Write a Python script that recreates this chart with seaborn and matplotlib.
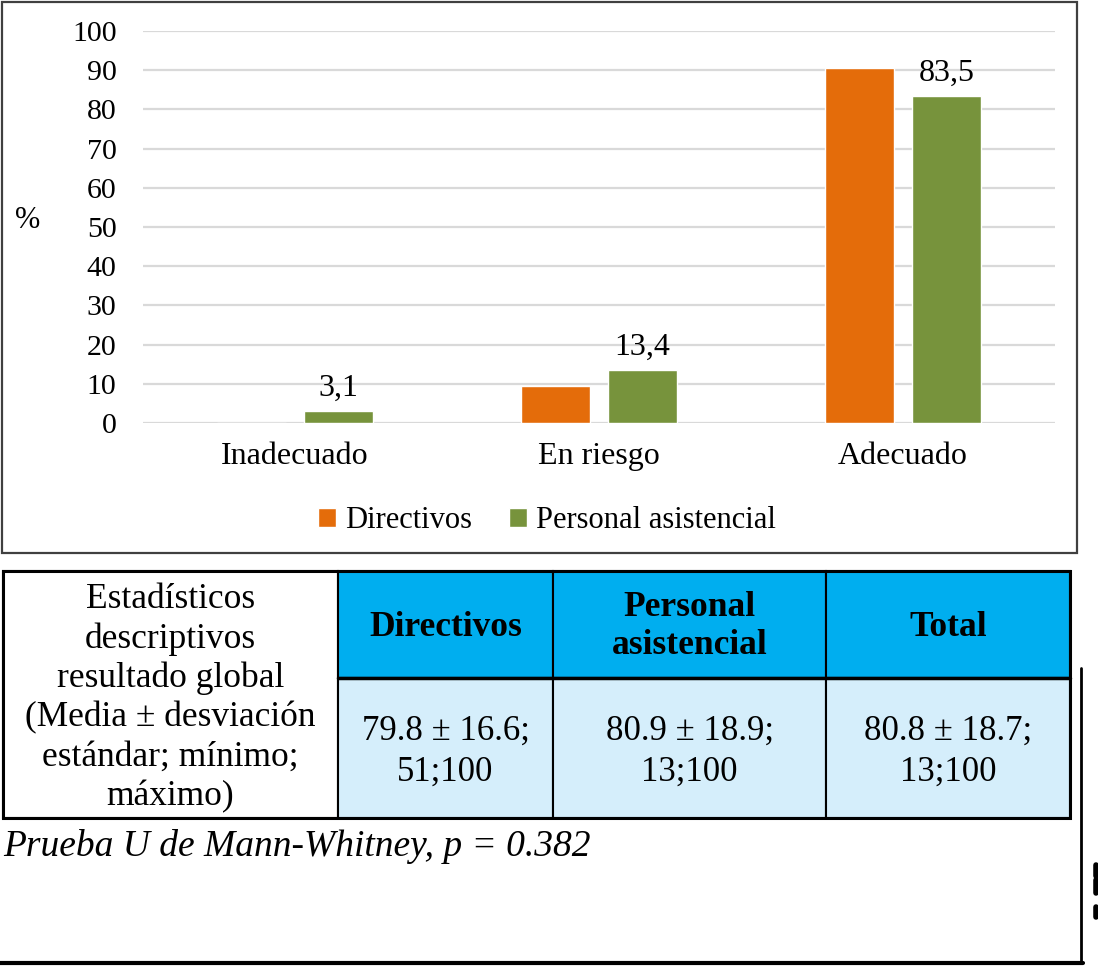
import matplotlib
matplotlib.use("Agg")
import matplotlib.pyplot as plt
import pandas as pd
import seaborn as sns
from matplotlib.patches import Rectangle

# datos del gráfico
CATEGORIES = ["Inadecuado", "En riesgo", "Adecuado"]
GROUPS = ["Directivos", "Personal asistencial"]
DIRECTIVOS = [0.0, 9.5, 90.5]
PERSONAL = [3.1, 13.4, 83.5]
PERSONAL_LABELS = ["3,1", "13,4", "83,5"]
Y_TICKS = list(range(0, 101, 10))

# datos de la tabla
TABLE_ROW_LABEL = ("Estadísticos\ndescriptivos\nresultado global\n"
                   "(Media ± desviación\nestándar; mínimo;\nmáximo)")
TABLE_HEADERS = ["Directivos", "Personal\nasistencial", "Total"]
TABLE_VALUES = ["79.8 ± 16.6;\n51;100", "80.9 ± 18.9;\n13;100", "80.8 ± 18.7;\n13;100"]
FOOTNOTE = "Prueba U de Mann-Whitney, p = 0.382"

ORANGE = "#E46C0A"
GREEN = "#77933C"
HEADER_BLUE = "#00AEEF"
CELL_BLUE = "#D5EEFB"

W, H = 1098, 966

sns.set_theme(style="white")
plt.rcParams["font.family"] = ["Liberation Serif", "DejaVu Serif"]
plt.rcParams["text.color"] = "black"
plt.rcParams["xtick.color"] = "black"
plt.rcParams["ytick.color"] = "black"


def fx(px):
    return px / W


def fy(py):
    return 1 - py / H


df = pd.DataFrame({
    "categoria": CATEGORIES * 2,
    "valor": DIRECTIVOS + PERSONAL,
    "grupo": [GROUPS[0]] * 3 + [GROUPS[1]] * 3,
})

fig = plt.figure(figsize=(W / 100, H / 100), dpi=100)

# capa de fondo para marco, tabla y líneas sueltas
ov = fig.add_axes([0, 0, 1, 1])
ov.set_xlim(0, W)
ov.set_ylim(H, 0)
ov.axis("off")

ax = fig.add_axes([fx(143), fy(423), (1055 - 143) / W, (423 - 31) / H])
sns.barplot(data=df, x="categoria", y="valor", hue="grupo", order=CATEGORIES,
            hue_order=GROUPS, palette=[ORANGE, GREEN], saturation=1,
            width=0.572, gap=0.217, ax=ax)
ax.set_ylim(0, 100)
ax.set_xlim(-0.5, 2.5)
ax.set_yticks(Y_TICKS)
ax.set_yticklabels([str(t) for t in Y_TICKS])
ax.yaxis.grid(True, color="#D9D9D9", lw=1.6)
ax.set_axisbelow(True)
for s in ax.spines.values():
    s.set_visible(False)
ax.tick_params(axis="y", length=0, pad=19, labelsize=21.5)
ax.tick_params(axis="x", length=0, pad=14, labelsize=23)
ax.set_xlabel("")
ax.set_ylabel("")
ax.bar_label(ax.containers[1], labels=PERSONAL_LABELS, padding=6, fontsize=23)

handles, labels = ax.get_legend_handles_labels()
ax.get_legend().remove()
fig.legend(handles, labels, loc="center", bbox_to_anchor=(fx(547), fy(521)),
           ncol=2, frameon=False, fontsize=22, handlelength=0.6,
           handleheight=0.6, handletextpad=0.3, columnspacing=1.2)

fig.text(fx(28), fy(220), "%", fontsize=22, ha="center", va="center")

# marco del gráfico
ov.add_patch(Rectangle((2, 2), 1075, 551, fill=False, ec="#404040", lw=1.6))

# tabla
COL_X = [3, 338, 553, 826, 1070]
ROW_Y = [571, 678, 818]
ov.add_patch(Rectangle((COL_X[0], ROW_Y[0]), COL_X[1] - COL_X[0], ROW_Y[2] - ROW_Y[0],
                       fc="white", ec="black", lw=1.5))
for i in range(3):
    x0, x1 = COL_X[i + 1], COL_X[i + 2]
    ov.add_patch(Rectangle((x0, ROW_Y[0]), x1 - x0, ROW_Y[1] - ROW_Y[0],
                           fc=HEADER_BLUE, ec="black", lw=1.5))
    ov.add_patch(Rectangle((x0, ROW_Y[1]), x1 - x0, ROW_Y[2] - ROW_Y[1],
                           fc=CELL_BLUE, ec="black", lw=1.5))
    ov.text((x0 + x1) / 2, 627, TABLE_HEADERS[i], ha="center", va="center",
            fontsize=25.5, fontweight="bold", linespacing=1.2)
    ov.text((x0 + x1) / 2, 752, TABLE_VALUES[i], ha="center", va="center",
            fontsize=25, linespacing=1.32)
ov.plot([COL_X[1], COL_X[4]], [ROW_Y[1], ROW_Y[1]], color="black", lw=2.5)
ov.add_patch(Rectangle((COL_X[0], ROW_Y[0]), COL_X[4] - COL_X[0], ROW_Y[2] - ROW_Y[0],
                       fill=False, ec="black", lw=2.2))
ov.text((COL_X[0] + COL_X[1]) / 2, 698, TABLE_ROW_LABEL, ha="center", va="center",
        fontsize=25.5, linespacing=1.24)

ov.text(3, 846, FOOTNOTE, ha="left", va="center", fontsize=27, fontstyle="italic")

# líneas sueltas del borde de página
ov.plot([1081, 1081], [668, 963], color="black", lw=2)
ov.plot([0, 1083], [963, 963], color="black", lw=3)
for y0, y1 in [(865, 876), (880, 893), (907, 917)]:
    ov.plot([1096, 1096], [y0, y1], color="black", lw=4)

fig.savefig("out.png", dpi=100)
